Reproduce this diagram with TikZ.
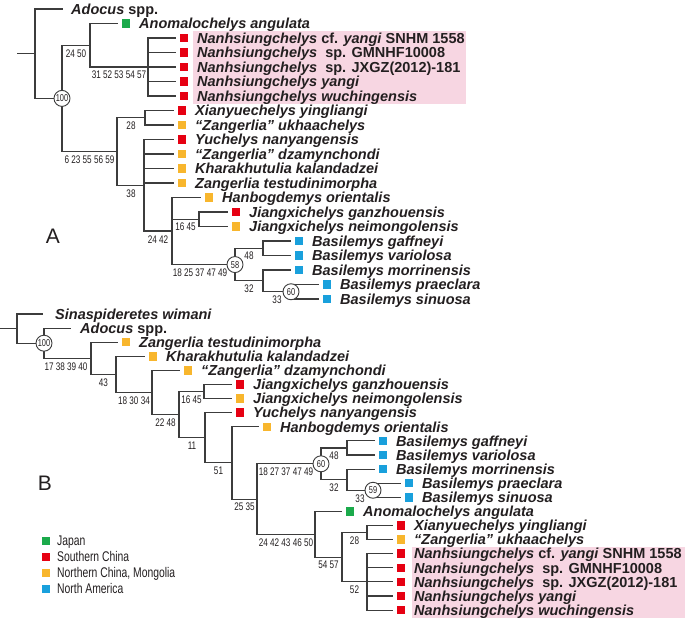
\documentclass[tikz,border=0pt]{standalone}
\usepackage{fontspec}
\setmainfont{Liberation Sans}
\newfontfamily\narrowfnt[FakeStretch=0.74]{Liberation Sans}
\definecolor{cjapan}{RGB}{27,170,75}
\definecolor{cschina}{RGB}{230,0,18}
\definecolor{cnchina}{RGB}{248,182,45}
\definecolor{cnamer}{RGB}{25,160,220}
\definecolor{pinkbg}{RGB}{247,214,226}
\definecolor{linec}{RGB}{60,60,60}
\definecolor{textc}{RGB}{35,31,32}
\newcommand\txfnt{\fontsize{14.5}{14.5}\selectfont\bfseries\itshape}
\newcommand\labfnt{\narrowfnt\fontsize{11}{11}\selectfont}
\newcommand\circfnt{\narrowfnt\fontsize{10}{10}\selectfont}
\newcommand\legfnt{\narrowfnt\fontsize{14}{14}\selectfont}
\tikzset{
  br/.style={line width=1.1pt, draw=linec},
  tx/.style={anchor=base west, inner sep=0pt, font=\txfnt, text=textc},
  sqr/.style={minimum size=8.5pt, inner sep=0pt, draw=none},
  lab/.style={font=\labfnt, inner sep=0pt, text=textc},
  circ/.style={circle, draw=linec, line width=0.9pt, fill=white, minimum size=16pt, inner sep=0pt, font=\circfnt, text=textc},
  pinkbox/.style={fill=pinkbg, draw=none},
}
% leaf with coloured square: name, end x, y, colour, text
\newcommand\lf[5]{%
  \coordinate (#1) at (#2,#3);
  \node[sqr, fill=#4] (#1s) at (#2+8,#3) {};
  \node[tx] (#1t) at (#2+21,#3+5.2) {#5};}
% leaf without square: name, end x, y, text x, text
\newcommand\lfn[5]{%
  \coordinate (#1) at (#2,#3);
  \node[tx] (#1t) at (#4,#3+5.2) {#5};}
\begin{document}
\begin{tikzpicture}[x=1pt,y=-1pt]
\useasboundingbox (0,0) rectangle (685,621);
\fill[white] (0,0) rectangle (685,621);
% pink backgrounds
\node[pinkbox, anchor=north west, minimum width=273pt, minimum height=73pt, inner sep=0pt] (pinkA) at (193,30.5) {};
\node[pinkbox, anchor=north west, minimum width=273pt, minimum height=71pt, inner sep=0pt] (pinkB) at (412,547) {};

% ---------------- Tree A ----------------
\coordinate (sA) at (17,53.7);
\coordinate (rA) at (35,53.7);
\coordinate (nA100) at (62,98.4);
\coordinate (nAN) at (90,45.25);
\coordinate (nANan) at (148,67);
\coordinate (nA6) at (117,151.5);
\coordinate (nA28) at (145,117.75);
\coordinate (nA38) at (144,185.27);
\coordinate (nA2442) at (172,231.03);
\coordinate (nA1645) at (199,219.25);
\coordinate (nA58) at (235,264.56);
\coordinate (nA48) at (263,248.25);
\coordinate (nA32) at (263,280.88);
\coordinate (nA60) at (291,291.75);

\lfn{a1}{63}{9}{71}{Adocus \textup{spp.}}
\lf{a2}{118}{23.5}{cjapan}{Anomalochelys angulata}
\lf{a3}{176}{38}{cschina}{Nanhsiungchelys \textup{cf.} yangi \textup{SNHM 1558}}
\lf{a4}{176}{52.5}{cschina}{Nanhsiungchelys\ \ \textup{sp. GMNHF10008}}
\lf{a5}{176}{67}{cschina}{Nanhsiungchelys\ \ \textup{sp. JXGZ(2012)-181}}
\lf{a6}{176}{81.5}{cschina}{Nanhsiungchelys yangi}
\lf{a7}{176}{96}{cschina}{Nanhsiungchelys wuchingensis}
\lf{a8}{174}{110.5}{cschina}{Xianyuechelys yingliangi}
\lf{a9}{174}{125}{cnchina}{“Zangerlia” ukhaachelys}
\lf{a10}{174}{139.5}{cschina}{Yuchelys nanyangensis}
\lf{a11}{174}{154}{cnchina}{“Zangerlia” dzamynchondi}
\lf{a12}{174}{168.5}{cnchina}{Kharakhutulia kalandadzei}
\lf{a13}{174}{183}{cnchina}{Zangerlia testudinimorpha}
\lf{a14}{201}{197.5}{cnchina}{Hanbogdemys orientalis}
\lf{a15}{228}{212}{cschina}{Jiangxichelys ganzhouensis}
\lf{a16}{228}{226.5}{cnchina}{Jiangxichelys neimongolensis}
\lf{a17}{291}{241}{cnamer}{Basilemys gaffneyi}
\lf{a18}{291}{255.5}{cnamer}{Basilemys variolosa}
\lf{a19}{291}{270}{cnamer}{Basilemys morrinensis}
\lf{a20}{319}{284.5}{cnamer}{Basilemys praeclara}
\lf{a21}{319}{299}{cnamer}{Basilemys sinuosa}

\draw[br] (sA) -- (rA);
\draw[br] (rA) |- (a1);
\draw[br] (rA) |- (nA100);
\draw[br] (nA100) |- (nAN);
\draw[br] (nA100) |- (nA6);
\draw[br] (nAN) |- (a2);
\draw[br] (nAN) |- (nANan);
\foreach \c in {a3,a4,a5,a6,a7} \draw[br] (nANan) |- (\c);
\draw[br] (nA6) |- (nA28);
\draw[br] (nA6) |- (nA38);
\draw[br] (nA28) |- (a8);
\draw[br] (nA28) |- (a9);
\foreach \c in {a10,a11,a12,a13} \draw[br] (nA38) |- (\c);
\draw[br] (nA38) |- (nA2442);
\draw[br] (nA2442) |- (a14);
\draw[br] (nA2442) |- (nA1645);
\draw[br] (nA2442) |- (nA58);
\draw[br] (nA1645) |- (a15);
\draw[br] (nA1645) |- (a16);
\draw[br] (nA58) |- (nA48);
\draw[br] (nA58) |- (nA32);
\draw[br] (nA48) |- (a17);
\draw[br] (nA48) |- (a18);
\draw[br] (nA32) |- (a19);
\draw[br] (nA32) |- (nA60);
\draw[br] (nA60) |- (a20);
\draw[br] (nA60) |- (a21);

\node[circ] (cA100) at (nA100) {100};
\node[circ] (cA58) at (nA58) {58};
\node[circ] (cA60) at (nA60) {60};

\node[lab] (lA1) at (76,53.5) {24 50};
\node[lab] (lA2) at (119,75) {31 52 53 54 57};
\node[lab] (lA3) at (89.5,160) {6 23 55 56 59};
\node[lab] (lA4) at (131,126) {28};
\node[lab] (lA5) at (131,193.5) {38};
\node[lab] (lA6) at (158,239.5) {24 42};
\node[lab] (lA7) at (185.5,227) {16 45};
\node[lab] (lA8) at (200,273) {18 25 37 47 49};
\node[lab] (lA9) at (249,256) {48};
\node[lab] (lA10) at (249,289) {32};
\node[lab] (lA11) at (277,300) {33};

\node[font=\fontsize{21}{21}\selectfont, text=textc, inner sep=0pt] (labA) at (53,236) {A};

% ---------------- Tree B ----------------
\coordinate (sB) at (0,328.6);
\coordinate (rB) at (17,328.6);
\coordinate (nB100) at (44,343.2);
\coordinate (nB17) at (91,358.3);
\coordinate (nB43) at (116,374.4);
\coordinate (nB1830) at (152,392.5);
\coordinate (nB2248) at (179,414.7);
\coordinate (nB1645) at (204,391.55);
\coordinate (nB11) at (205,437.8);
\coordinate (nB51) at (232,462.9);
\coordinate (nB2535) at (257,499.05);
\coordinate (nB60) at (321,463.8);
\coordinate (nB48) at (347,447.95);
\coordinate (nB32) at (347,479.68);
\coordinate (nB59) at (373,490.25);
\coordinate (nB2442) at (315,534.3);
\coordinate (nB5457) at (342,557.2);
\coordinate (nB28) at (367,532.55);
\coordinate (nBNan) at (367,581.9);

\lfn{b1}{43}{314}{55}{Sinaspideretes wimani}
\lfn{b2}{71}{328.1}{80}{Adocus \textup{spp.}}
\lf{b3}{118}{342.2}{cnchina}{Zangerlia testudinimorpha}
\lf{b4}{145}{356.3}{cnchina}{Kharakhutulia kalandadzei}
\lf{b5}{180}{370.4}{cnchina}{“Zangerlia” dzamynchondi}
\lf{b6}{232}{384.5}{cschina}{Jiangxichelys ganzhouensis}
\lf{b7}{232}{398.6}{cnchina}{Jiangxichelys neimongolensis}
\lf{b8}{232}{412.7}{cschina}{Yuchelys nanyangensis}
\lf{b9}{259}{426.8}{cnchina}{Hanbogdemys orientalis}
\lf{b10}{375}{440.9}{cnamer}{Basilemys gaffneyi}
\lf{b11}{375}{455}{cnamer}{Basilemys variolosa}
\lf{b12}{375}{469.1}{cnamer}{Basilemys morrinensis}
\lf{b13}{401}{483.2}{cnamer}{Basilemys praeclara}
\lf{b14}{401}{497.3}{cnamer}{Basilemys sinuosa}
\lf{b15}{342}{511.4}{cjapan}{Anomalochelys angulata}
\lf{b16}{393}{525.5}{cschina}{Xianyuechelys yingliangi}
\lf{b17}{393}{539.6}{cnchina}{“Zangerlia” ukhaachelys}
\lf{b18}{393}{553.7}{cschina}{Nanhsiungchelys \textup{cf.} yangi \textup{SNHM 1558}}
\lf{b19}{393}{567.8}{cschina}{Nanhsiungchelys\ \ \textup{sp. GMNHF10008}}
\lf{b20}{393}{581.9}{cschina}{Nanhsiungchelys\ \ \textup{sp. JXGZ(2012)-181}}
\lf{b21}{393}{596}{cschina}{Nanhsiungchelys yangi}
\lf{b22}{393}{610.1}{cschina}{Nanhsiungchelys wuchingensis}

\draw[br] (sB) -- (rB);
\draw[br] (rB) |- (b1);
\draw[br] (rB) |- (nB100);
\draw[br] (nB100) |- (b2);
\draw[br] (nB100) |- (nB17);
\draw[br] (nB17) |- (b3);
\draw[br] (nB17) |- (nB43);
\draw[br] (nB43) |- (b4);
\draw[br] (nB43) |- (nB1830);
\draw[br] (nB1830) |- (b5);
\draw[br] (nB1830) |- (nB2248);
\draw[br] (nB2248) |- (nB1645);
\draw[br] (nB2248) |- (nB11);
\draw[br] (nB1645) |- (b6);
\draw[br] (nB1645) |- (b7);
\draw[br] (nB11) |- (b8);
\draw[br] (nB11) |- (nB51);
\draw[br] (nB51) |- (b9);
\draw[br] (nB51) |- (nB2535);
\draw[br] (nB2535) |- (nB60);
\draw[br] (nB2535) |- (nB2442);
\draw[br] (nB60) |- (nB48);
\draw[br] (nB60) |- (nB32);
\draw[br] (nB48) |- (b10);
\draw[br] (nB48) |- (b11);
\draw[br] (nB32) |- (b12);
\draw[br] (nB32) |- (nB59);
\draw[br] (nB59) |- (b13);
\draw[br] (nB59) |- (b14);
\draw[br] (nB2442) |- (b15);
\draw[br] (nB2442) |- (nB5457);
\draw[br] (nB5457) |- (nB28);
\draw[br] (nB5457) |- (nBNan);
\draw[br] (nB28) |- (b16);
\draw[br] (nB28) |- (b17);
\foreach \c in {b18,b19,b20,b21,b22} \draw[br] (nBNan) |- (\c);

\node[circ] (cB100) at (nB100) {100};
\node[circ] (cB60) at (nB60) {60};
\node[circ] (cB59) at (nB59) {59};

\node[lab] (lB1) at (66,367) {17 38 39 40};
\node[lab] (lB2) at (103.5,382.5) {43};
\node[lab] (lB3) at (134,400.5) {18 30 34};
\node[lab] (lB4) at (165.5,423) {22 48};
\node[lab] (lB5) at (191.5,399.5) {16 45};
\node[lab] (lB6) at (192,446) {11};
\node[lab] (lB7) at (218.5,471) {51};
\node[lab] (lB8) at (244.5,507) {25 35};
\node[lab] (lB9) at (286,472) {18 27 37 47 49};
\node[lab] (lB10) at (334,456) {48};
\node[lab] (lB11) at (334,488) {32};
\node[lab] (lB12) at (360,498.5) {33};
\node[lab] (lB13) at (286,542.5) {24 42 43 46 50};
\node[lab] (lB14) at (328.5,565) {54 57};
\node[lab] (lB15) at (354.5,540.5) {28};
\node[lab] (lB16) at (354.5,590) {52};

\node[font=\fontsize{21}{21}\selectfont, text=textc, inner sep=0pt] (labB) at (45,483) {B};

% ---------------- Legend ----------------
\node[sqr, fill=cjapan] (lg1) at (46,541) {};
\node[sqr, fill=cschina] (lg2) at (46,557) {};
\node[sqr, fill=cnchina] (lg3) at (46,573) {};
\node[sqr, fill=cnamer] (lg4) at (46,589) {};
\node[anchor=base west, inner sep=0pt, font=\legfnt, text=textc] (lt1) at (57,545.8) {Japan};
\node[anchor=base west, inner sep=0pt, font=\legfnt, text=textc] (lt2) at (57,561.8) {Southern China};
\node[anchor=base west, inner sep=0pt, font=\legfnt, text=textc] (lt3) at (57,577.8) {Northern China, Mongolia};
\node[anchor=base west, inner sep=0pt, font=\legfnt, text=textc] (lt4) at (57,593.8) {North America};
\end{tikzpicture}
\end{document}
